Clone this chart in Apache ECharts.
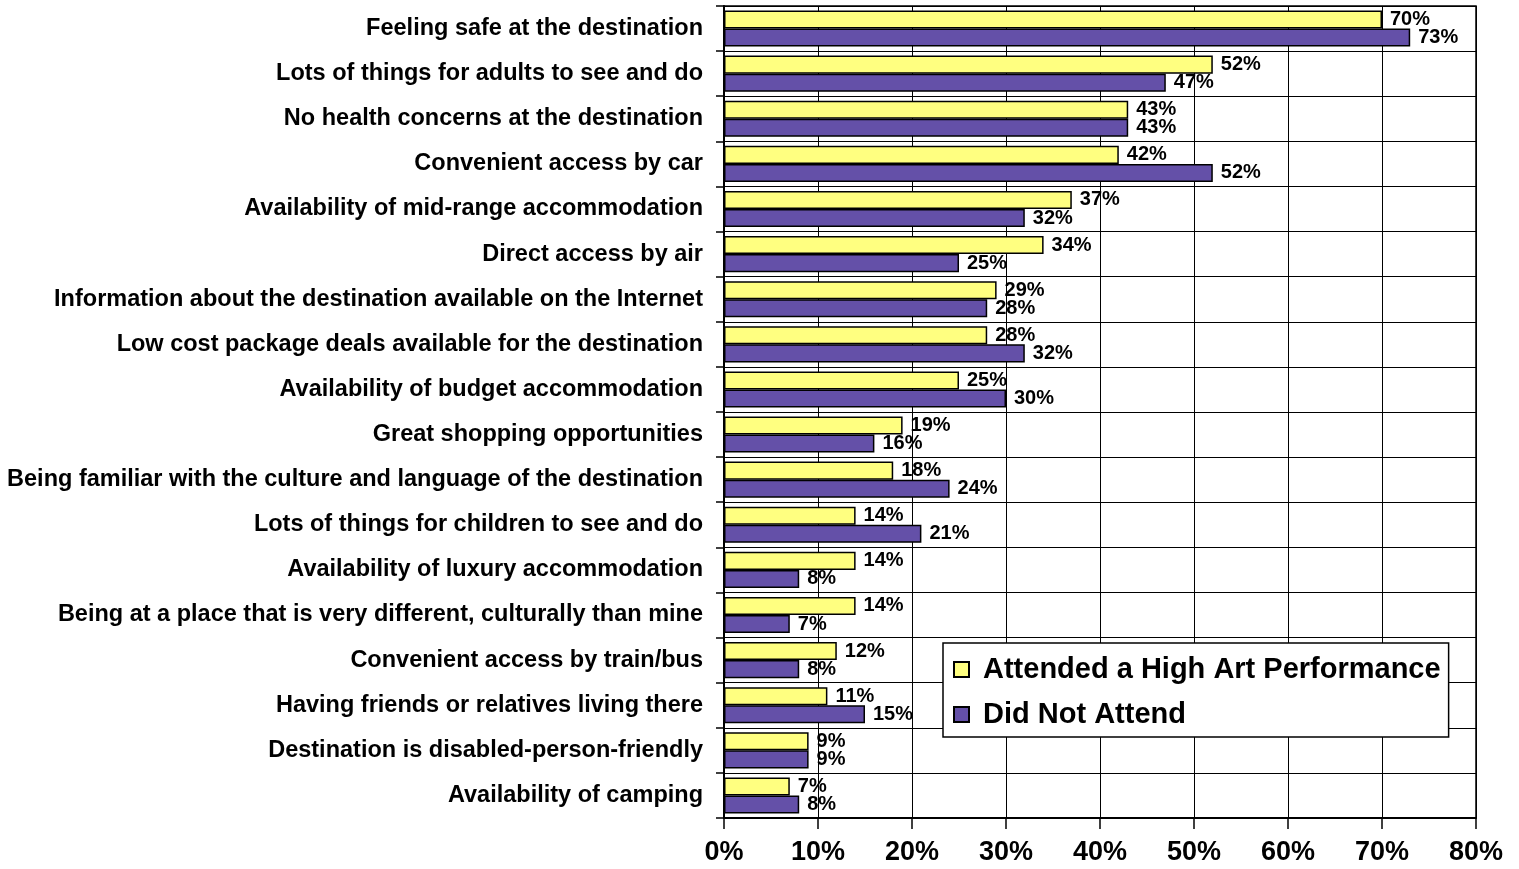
<!DOCTYPE html>
<html>
<head>
<meta charset="utf-8">
<title>Destination features</title>
<script src="https://cdn.jsdelivr.net/npm/echarts@6/dist/echarts.min.js"></script>
<style>
  html, body { margin: 0; padding: 0; background: #ffffff; }
  #chart { width: 1519px; height: 869px; }
</style>
</head>
<body>
<div id="chart"></div>
<script>
// Destination features rated as important, by arts attendance (percent of respondents)
var categories = [
  'Feeling safe at the destination',
  'Lots of things for adults to see and do',
  'No health concerns at the destination',
  'Convenient access by car',
  'Availability of mid-range accommodation',
  'Direct access by air',
  'Information about the destination available on the Internet',
  'Low cost package deals available for the destination',
  'Availability of budget accommodation',
  'Great shopping opportunities',
  'Being familiar with the culture and language of the destination',
  'Lots of things for children to see and do',
  'Availability of luxury accommodation',
  'Being at a place that is very different, culturally than mine',
  'Convenient access by train/bus',
  'Having friends or relatives living there',
  'Destination is disabled-person-friendly',
  'Availability of camping'
];
var attended = [70, 52, 43, 42, 37, 34, 29, 28, 25, 19, 18, 14, 14, 14, 12, 11, 9, 7];
var notAttended = [73, 47, 43, 52, 32, 25, 28, 32, 30, 16, 24, 21, 8, 7, 8, 15, 9, 8];
var seriesNames = ['Attended a High Art Performance', 'Did Not Attend'];
var xTicks = { min: 0, max: 80, interval: 10 };

var FONT = '"Liberation Sans", Arial, sans-serif';

function barLabel() {
  return {
    show: true,
    position: 'right',
    distance: 8,
    formatter: '{c}%',
    color: '#000',
    fontFamily: FONT,
    fontWeight: 'bold',
    fontSize: 20
  };
}

var chart = echarts.init(document.getElementById('chart'), null, { renderer: 'canvas' });
chart.setOption({
  backgroundColor: '#ffffff',
  animation: false,
  grid: {
    left: 724, right: 43, top: 6, bottom: 51,
    show: true, borderColor: '#000', borderWidth: 1.5,
    containLabel: false
  },
  legend: {
    orient: 'vertical',
    left: 943, top: 643,
    backgroundColor: '#ffffff',
    borderColor: '#000',
    borderWidth: 1.5,
    padding: [12, 8, 8, 10],
    itemWidth: 15, itemHeight: 15,
    itemGap: 16,
    icon: 'rect',
    textStyle: {
      fontFamily: FONT, fontWeight: 'bold', fontSize: 29,
      color: '#000', lineHeight: 29, padding: [0, 0, 0, 9]
    },
    data: seriesNames
  },
  xAxis: {
    type: 'value',
    min: xTicks.min, max: xTicks.max, interval: xTicks.interval,
    axisLine: { show: true, lineStyle: { color: '#000', width: 2 } },
    axisTick: { show: true, length: 11, lineStyle: { color: '#000', width: 1.5 } },
    splitLine: { show: true, lineStyle: { color: '#000', width: 1 } },
    axisLabel: {
      formatter: '{value}%', margin: 21,
      fontFamily: FONT, fontWeight: 'bold', fontSize: 27, color: '#000'
    }
  },
  yAxis: {
    type: 'category',
    inverse: true,
    data: categories,
    axisLine: { show: true, lineStyle: { color: '#000', width: 2 } },
    axisTick: { show: true, length: 8, lineStyle: { color: '#000', width: 1.5 } },
    splitLine: { show: true, lineStyle: { color: '#000', width: 1 } },
    axisLabel: {
      margin: 21,
      fontFamily: FONT, fontWeight: 'bold', fontSize: 23.5, color: '#000'
    }
  },
  series: [
    {
      name: seriesNames[0],
      type: 'bar',
      data: attended,
      barGap: '0%',
      barCategoryGap: '20%',
      itemStyle: { color: '#FFFF80', borderColor: '#000', borderWidth: 1.5 },
      label: barLabel()
    },
    {
      name: seriesNames[1],
      type: 'bar',
      data: notAttended,
      barGap: '0%',
      barCategoryGap: '20%',
      itemStyle: { color: '#6450A8', borderColor: '#000', borderWidth: 1.5 },
      label: barLabel()
    }
  ]
});
</script>
</body>
</html>
